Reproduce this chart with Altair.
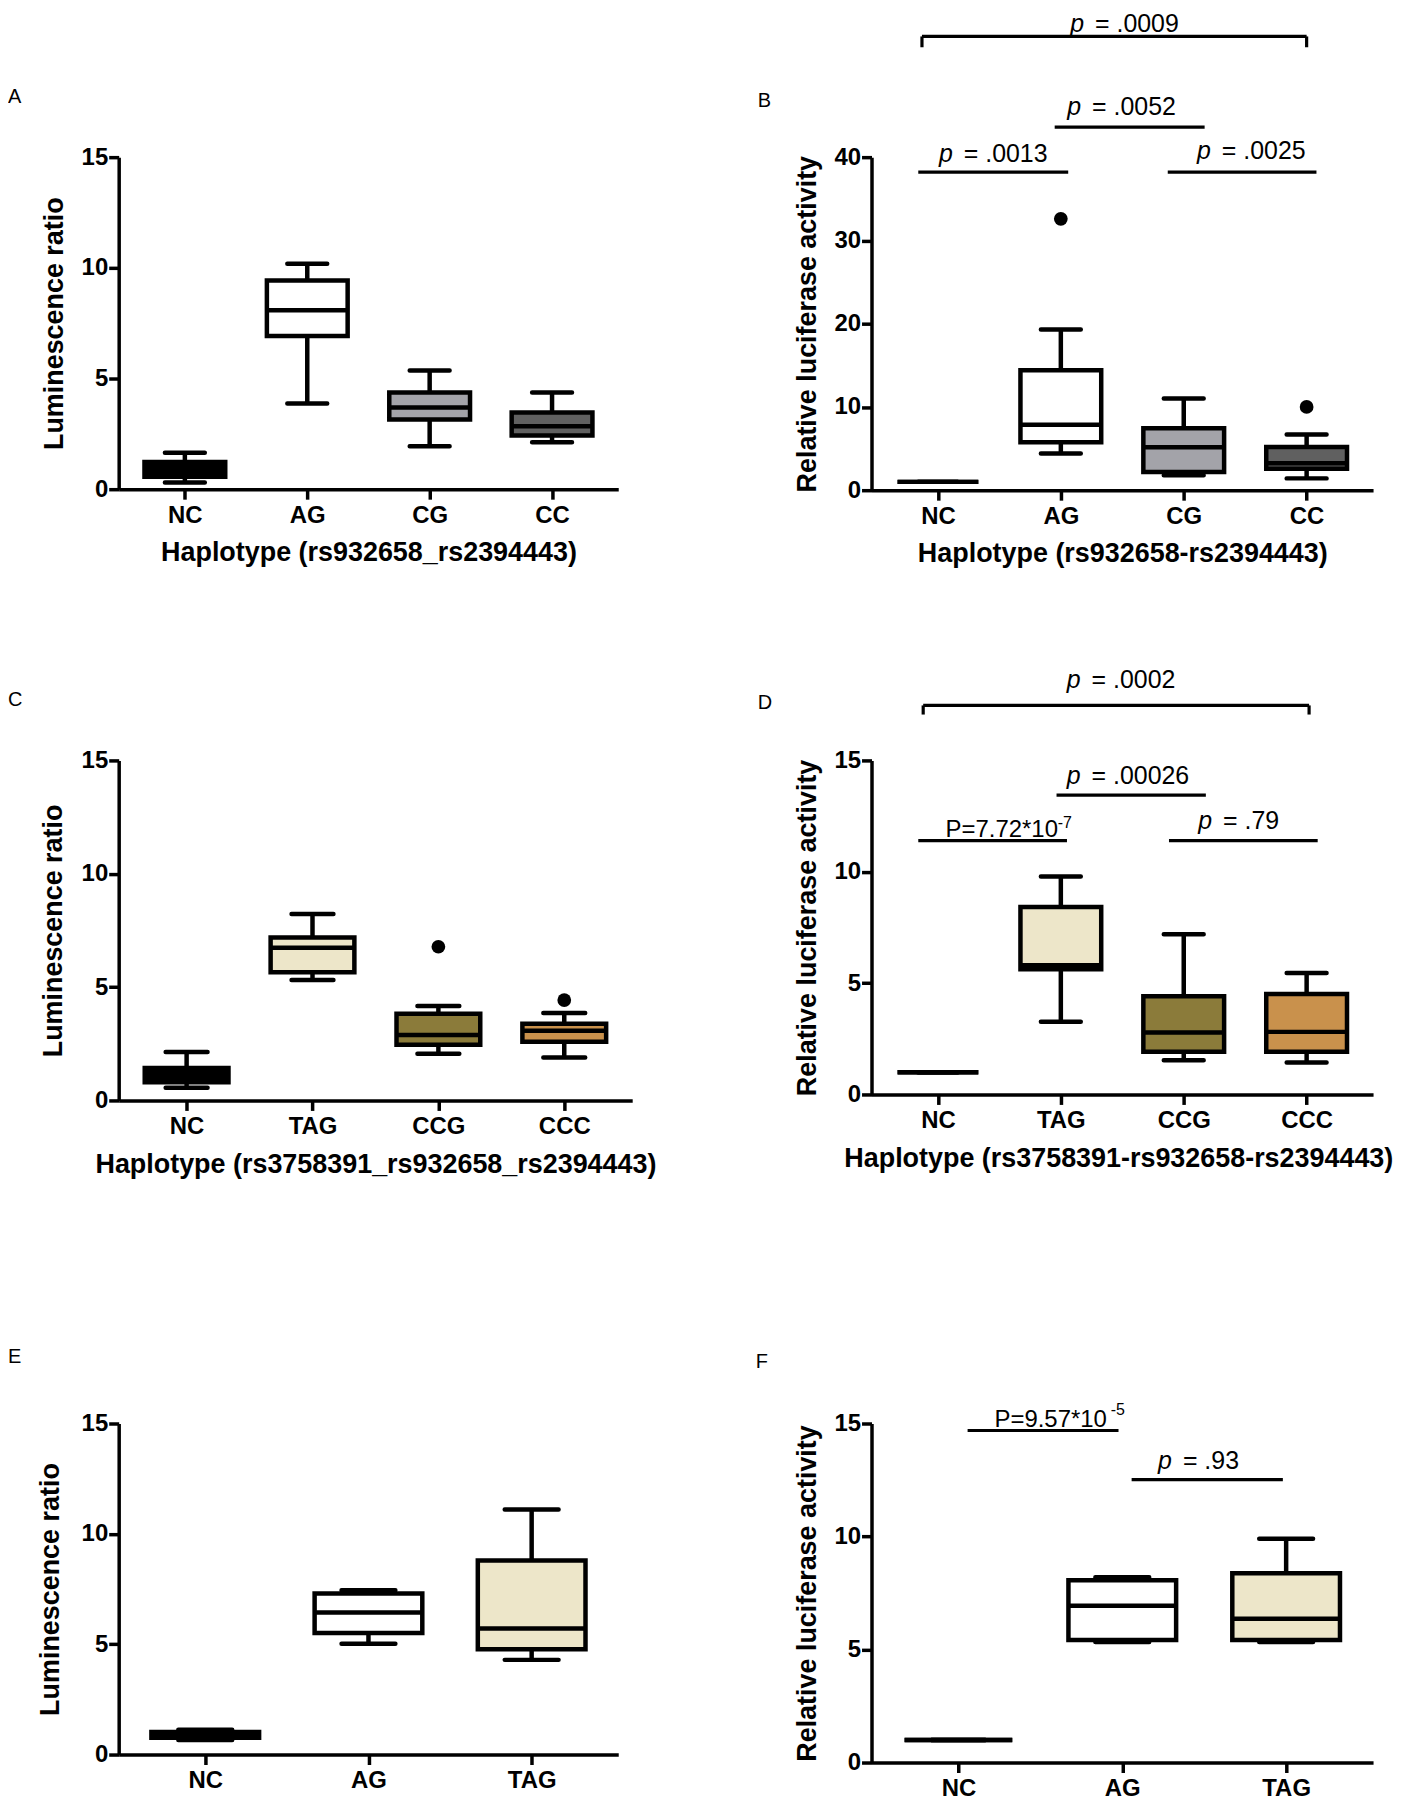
import altair as alt
import pandas as pd

FONT = "Liberation Sans, Arial, Helvetica, sans-serif"

# ---------------- data ----------------
# Panel A
A_cats = ["NC", "AG", "CG", "CC"]
A_low = [0.30, 3.87, 1.94, 2.12]
A_q1 = [0.56, 6.92, 3.15, 2.43]
A_med = [0.90, 8.08, 3.69, 2.84]
A_q3 = [1.23, 9.43, 4.37, 3.47]
A_high = [1.65, 10.19, 5.36, 4.37]

# Panel B
B_cats = ["NC", "AG", "CG", "CC"]
B_low = [1.0, 4.40, 1.80, 1.42]
B_q1 = [1.0, 5.75, 2.20, 2.57]
B_med = [1.0, 7.85, 5.15, 3.24]
B_q3 = [1.0, 14.40, 7.45, 5.19]
B_high = [1.0, 19.30, 11.00, 6.70]
B_out_cats = ["AG", "CC"]
B_out_vals = [32.6, 10.0]
B_lines = [(-0.16, 1.06, 38.2), (0.95, 2.17, 43.6), (1.87, 3.08, 38.2), (-0.13, 3.0, 54.5)]
B_brackets = [(-0.13, 53.2, 54.5), (3.0, 53.2, 54.5)]
B_ptexts = [(0.21, 39.4, "= .0013"), (1.254, 45.1, "= .0052"), (2.31, 39.8, "= .0025"), (1.278, 55.09, "= .0009")]

# Panel C
C_cats = ["NC", "TAG", "CCG", "CCC"]
C_low = [0.56, 5.31, 2.06, 1.89]
C_q1 = [0.80, 5.65, 2.46, 2.59]
C_med = [1.13, 6.74, 2.89, 3.07]
C_q3 = [1.43, 7.19, 3.82, 3.38]
C_high = [2.14, 8.22, 4.17, 3.86]
C_out_cats = ["CCG", "CCC"]
C_out_vals = [6.78, 4.43]

# Panel D
D_cats = ["NC", "TAG", "CCG", "CCC"]
D_low = [1.0, 3.26, 1.54, 1.44]
D_q1 = [1.0, 5.62, 1.92, 1.92]
D_med = [1.0, 5.80, 2.78, 2.81]
D_q3 = [1.0, 8.42, 4.41, 4.51]
D_high = [1.0, 9.79, 7.19, 5.45]
D_lines = [(-0.16, 1.05, 11.4), (0.965, 2.18, 13.44), (1.88, 3.09, 11.4), (-0.12, 3.02, 17.47)]
D_brackets = [(-0.12, 17.06, 17.47), (3.02, 17.06, 17.47)]
D_ptexts = [(1.25, 18.26, "= .0002"), (1.25, 13.92, "= .00026"), (2.32, 11.92, "= .79")]
D_plain = [(0.062, 11.55, "P=7.72*10")]
D_sups = [(0.975, 11.97, "-7")]

# Panel E
E_cats = ["NC", "AG", "TAG"]
E_low = [0.66, 5.02, 4.29]
E_q1 = [0.76, 5.51, 4.77]
E_med = [0.90, 6.44, 5.71]
E_q3 = [1.02, 7.30, 8.79]
E_high = [1.12, 7.45, 11.10]

# Panel F
F_cats = ["NC", "AG", "TAG"]
F_low = [1.0, 5.33, 5.33]
F_q1 = [1.0, 5.42, 5.42]
F_med = [1.0, 6.94, 6.36]
F_q3 = [1.0, 8.06, 8.37]
F_high = [1.0, 8.20, 9.90]
F_lines = [(0.056, 0.977, 14.69), (1.057, 1.98, 12.52)]
F_ptexts = [(1.37, 12.97, "= .93")]
F_plain = [(0.22, 14.84, "P=9.57*10")]
F_sups = [(0.93, 15.36, "-5")]

# ---------------- styles ----------------
GRAYS = ["#000000", "#ffffff", "#a3a3a9", "#606060"]
TANS = ["#000000", "#ede6c9", "#8b7b3a", "#c9914c"]
THREE = ["#000000", "#ffffff", "#ede6c9"]
LUM = "Luminescence ratio"
LUC = "Relative luciferase activity"
PFS = 25


def make_panel(cats, low, q1, med, q3, high, colors, ymax, yvals, ytitle, xtitle,
               width, height, boxw, capw, letter, letter_dx, letter_dy,
               out_cats=(), out_vals=(), lines=(), brackets=(), ptexts=(),
               plain=(), sups=(), ytitle_x=-64, xtitle_dx=0):
    n = len(cats)
    idx = list(range(n))
    df = pd.DataFrame({"cat": cats, "idx": idx, "low": low, "q1": q1,
                       "med": med, "q3": q3, "high": high})
    xscale = alt.Scale(domain=[-0.5, n - 0.5], nice=False, zero=False)
    yscale = alt.Scale(domain=[0, ymax], nice=False, zero=False)
    label_expr = "[" + ",".join("'%s'" % c for c in cats) + "][datum.value]"
    xaxis = alt.Axis(values=idx, labelExpr=label_expr, title=xtitle, titleY=64,
                     titleX=width / 2 + xtitle_dx, titleBaseline="middle",
                     labelPadding=4, labelFlush=False, labelOverlap=False)
    yaxis = alt.Axis(values=yvals, title=ytitle, titleX=ytitle_x, titleY=height / 2,
                     titleBaseline="middle", titleAlign="center", titleAngle=270,
                     labelPadding=1, labelOverlap=False)

    def X(f):
        return alt.X(f, type="quantitative", scale=xscale, axis=xaxis)

    def Y(f):
        return alt.Y(f, type="quantitative", scale=yscale, axis=yaxis)

    base = alt.Chart(df)
    layers = [
        base.mark_rule(color="black", strokeWidth=4.5).encode(x=X("idx"), y=Y("low"), y2="high"),
        base.mark_bar(size=capw, color="black", stroke="black", strokeWidth=4.5,
                      strokeJoin="round").encode(x=X("idx"), y=Y("low"), y2="low"),
        base.mark_bar(size=capw, color="black", stroke="black", strokeWidth=4.5,
                      strokeJoin="round").encode(x=X("idx"), y=Y("high"), y2="high"),
        base.mark_bar(size=boxw, stroke="black", strokeWidth=4.5).encode(
            x=X("idx"), y=Y("q1"), y2="q3",
            fill=alt.Fill("cat:N", scale=alt.Scale(domain=cats, range=colors), legend=None)),
        base.mark_bar(size=boxw, color="black", stroke="black", strokeWidth=4.5).encode(
            x=X("idx"), y=Y("med"), y2="med"),
    ]
    if len(out_cats):
        odf = pd.DataFrame({"idx": [cats.index(c) for c in out_cats], "val": list(out_vals)})
        layers.append(alt.Chart(odf).mark_circle(size=190, color="black", opacity=1).encode(
            x=X("idx"), y=Y("val")))
    if len(lines):
        ldf = pd.DataFrame(list(lines), columns=["x1", "x2", "y"])
        layers.append(alt.Chart(ldf).mark_rule(color="black", strokeWidth=3.2).encode(
            x=X("x1"), x2="x2", y=Y("y")))
    if len(brackets):
        bdf = pd.DataFrame(list(brackets), columns=["x", "y1", "y2"])
        layers.append(alt.Chart(bdf).mark_rule(color="black", strokeWidth=3.2).encode(
            x=X("x"), y=Y("y1"), y2="y2"))
    if len(ptexts):
        pdf = pd.DataFrame(list(ptexts), columns=["x", "y", "rest"])
        layers.append(alt.Chart(pdf).mark_text(
            text="p", align="right", baseline="alphabetic", dx=-11, font=FONT,
            fontSize=PFS, fontStyle="italic", color="black").encode(x=X("x"), y=Y("y")))
        layers.append(alt.Chart(pdf).mark_text(
            align="left", baseline="alphabetic", font=FONT, fontSize=PFS,
            color="black").encode(x=X("x"), y=Y("y"), text="rest:N"))
    if len(plain):
        tdf = pd.DataFrame(list(plain), columns=["x", "y", "txt"])
        layers.append(alt.Chart(tdf).mark_text(
            align="left", baseline="alphabetic", font=FONT, fontSize=24,
            color="black").encode(x=X("x"), y=Y("y"), text="txt:N"))
    if len(sups):
        sdf = pd.DataFrame(list(sups), columns=["x", "y", "txt"])
        layers.append(alt.Chart(sdf).mark_text(
            align="left", baseline="alphabetic", font=FONT, fontSize=16,
            color="black").encode(x=X("x"), y=Y("y"), text="txt:N"))

    # panel letter
    layers.append(alt.Chart(pd.DataFrame({"t": [letter]})).mark_text(
        align="left", baseline="alphabetic", font=FONT, fontSize=20, color="black"
    ).encode(x=alt.value(letter_dx), y=alt.value(letter_dy), text="t:N"))

    return alt.layer(*layers).properties(width=width, height=height)


def spacer(h):
    sdf = pd.DataFrame({"v": [0]})
    return alt.Chart(sdf).mark_point(opacity=0).encode(
        x=alt.X("v:Q", axis=None), y=alt.Y("v:Q", axis=None)).properties(width=1, height=h)


pA = make_panel(A_cats, A_low, A_q1, A_med, A_q3, A_high, GRAYS, 15, [0, 5, 10, 15], LUM,
                "Haplotype (rs932658_rs2394443)", 501, 333, 81, 40, "A", -111, -54)
pB = make_panel(B_cats, B_low, B_q1, B_med, B_q3, B_high, GRAYS, 40, [0, 10, 20, 30, 40], LUC,
                "Haplotype (rs932658-rs2394443)", 503, 334, 81, 40, "B", -114, -50,
                out_cats=B_out_cats, out_vals=B_out_vals, lines=B_lines,
                brackets=B_brackets, ptexts=B_ptexts)
pC = make_panel(C_cats, C_low, C_q1, C_med, C_q3, C_high, TANS, 15, [0, 5, 10, 15], LUM,
                "Haplotype (rs3758391_rs932658_rs2394443)", 515, 341, 84, 42, "C", -111, -55,
                out_cats=C_out_cats, out_vals=C_out_vals, ytitle_x=-65)
pD = make_panel(D_cats, D_low, D_q1, D_med, D_q3, D_high, TANS, 15, [0, 5, 10, 15], LUC,
                "Haplotype (rs3758391-rs932658-rs2394443)", 503, 335, 81, 40, "D", -114, -52,
                lines=D_lines, brackets=D_brackets, ptexts=D_ptexts, plain=D_plain,
                sups=D_sups, xtitle_dx=-4)
pE = make_panel(E_cats, E_low, E_q1, E_med, E_q3, E_high, THREE, 15, [0, 5, 10, 15], LUM,
                "", 501, 332, 108, 54, "E", -111, -61, ytitle_x=-68)
pF = make_panel(F_cats, F_low, F_q1, F_med, F_q3, F_high, THREE, 15, [0, 5, 10, 15], LUC,
                "", 503, 340, 108, 54, "F", -116, -56,
                lines=F_lines, ptexts=F_ptexts, plain=F_plain, sups=F_sups)

chart = alt.concat(
    pA, pB, spacer(271), spacer(271), pC, pD, spacer(324), spacer(324), pE, pF,
    columns=2, spacing={"row": 0, "column": 240}, bounds="flush", align="each"
).resolve_scale(fill="independent").properties(padding=0).configure_view(
    stroke=None).configure_axis(
    domainColor="black", domainWidth=3.5, tickColor="black", tickWidth=3.5, tickSize=10,
    labelFont=FONT, labelFontSize=24, labelFontWeight="bold", labelColor="black",
    titleFont=FONT, titleFontSize=27, titleFontWeight="bold", titleColor="black",
    grid=False)

chart.save("out.html", embed_options={"renderer": "svg", "actions": False})
